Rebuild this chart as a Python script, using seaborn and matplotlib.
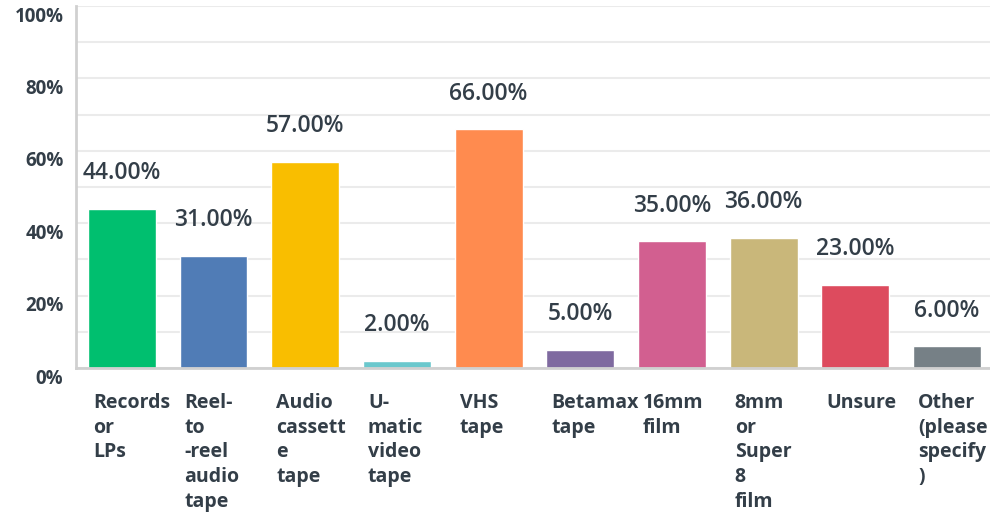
import matplotlib
matplotlib.use("Agg")
import matplotlib.pyplot as plt
import matplotlib.transforms as mtransforms
import seaborn as sns
import pandas as pd

categories = ["Records or LPs", "Reel-to-reel audio tape", "Audio cassette tape",
              "U-matic video tape", "VHS tape", "Betamax tape", "16mm film",
              "8mm or Super 8 film", "Unsure", "Other (please specify)"]
tick_labels = ["Records\nor\nLPs", "Reel-\nto\n-reel\naudio\ntape", "Audio\ncassett\ne\ntape",
               "U-\nmatic\nvideo\ntape", "VHS\ntape", "Betamax\ntape", "16mm\nfilm",
               "8mm\nor\nSuper\n8\nfilm", "Unsure", "Other\n(please\nspecify\n)"]
percentages = [44.0, 31.0, 57.0, 2.0, 66.0, 5.0, 35.0, 36.0, 23.0, 6.0]
colors = ["#00bf6f", "#507cb6", "#f9be00", "#6bc8cd", "#ff8b4f",
          "#7f6aa0", "#d25f90", "#c9b77a", "#dd4b5e", "#768086"]
y_ticks = [0, 20, 40, 60, 80, 100]

TEXT = "#333e48"
sns.set_style("white")
plt.rcParams["font.family"] = ["Open Sans", "DejaVu Sans"]

df = pd.DataFrame({"category": categories, "pct": percentages})

fig = plt.figure(figsize=(9.9, 5.12), dpi=100)
ax = fig.add_axes([76 / 990, (512 - 368) / 512, 1 - 76 / 990 + 0.003, (368 - 6) / 512])

sns.barplot(data=df, x="category", y="pct", hue="category", palette=colors,
            legend=False, width=0.74, saturation=1, ax=ax)

ax.set_ylim(0, 100)
ax.set_xlim(-0.5, len(categories) - 0.5)
ax.set_axisbelow(True)
ax.set_yticks(y_ticks)
ax.set_yticks(range(10, 100, 20), minor=True)
ax.yaxis.grid(True, which="both", color="#ebebeb", linewidth=1.5)
ax.set_yticklabels([f"{t}%" for t in y_ticks], fontsize=13.5, fontweight="bold", color=TEXT)
ax.tick_params(axis="y", which="both", length=0, pad=9)
for lab in ax.get_yticklabels():
    lab.set_transform(lab.get_transform() + mtransforms.ScaledTranslation(0, -8 / 100, fig.dpi_scale_trans))

ax.set_xticks(range(len(categories)))
ax.set_xticklabels(tick_labels, fontsize=14, fontweight="bold", color=TEXT,
                   ha="left", va="top", linespacing=1.31)
ax.tick_params(axis="x", length=0, pad=18)
for lab in ax.get_xticklabels():
    lab.set_transform(lab.get_transform() + mtransforms.ScaledTranslation(-29 / 100, 0, fig.dpi_scale_trans))

ax.set_xlabel("")
ax.set_ylabel("")
for side in ["top", "right"]:
    ax.spines[side].set_visible(False)
for side in ["left", "bottom"]:
    ax.spines[side].set_color("#d0d0d0")
    ax.spines[side].set_linewidth(2)

for i, v in enumerate(percentages):
    ax.annotate(f"{v:.2f}%", xy=(i, v), xytext=(0, 25.5), textcoords="offset points",
                ha="center", va="center", fontsize=16.5, color=TEXT, fontweight="semibold")

fig.savefig("out.png", dpi=100)
